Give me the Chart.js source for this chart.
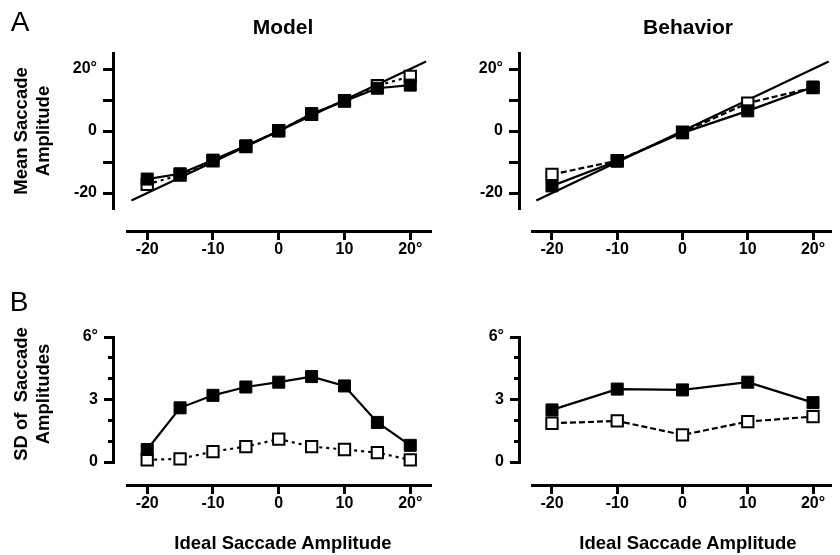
<!DOCTYPE html>
<html>
<head>
<meta charset="utf-8">
<script src="https://cdn.jsdelivr.net/npm/chart.js@4.4.0/dist/chart.umd.min.js"></script>
<style>
  body { margin: 0; background: #fff; }
  #wrap { position: relative; width: 840px; height: 555px; background: #fff; overflow: hidden;
          font-family: 'Liberation Sans', Arial, sans-serif; color: #000; }
  canvas { position: absolute; }
  .lbl { position: absolute; white-space: nowrap; transform: translate(-50%, -50%); }
  .bold { font-weight: bold; font-size: 18.5px; }
  .ytitle { position: absolute; white-space: nowrap; font-weight: bold; font-size: 18.5px;
            line-height: 22px; text-align: center; transform: translate(-50%, -50%) rotate(-90deg); }
</style>
</head>
<body>
<div id="wrap">
  <canvas id="meanModel" width="440" height="270" style="left:0;top:0"></canvas>
  <canvas id="meanBehav" width="400" height="270" style="left:440px;top:0"></canvas>
  <canvas id="sdModel" width="440" height="285" style="left:0;top:270px"></canvas>
  <canvas id="sdBehav" width="400" height="285" style="left:440px;top:270px"></canvas>

  <div class="lbl" style="left:20px;top:22px;font-size:28px">A</div>
  <div class="lbl" style="left:19px;top:302px;font-size:28px">B</div>
  <div class="lbl" style="left:283px;top:27px;font-size:21px;font-weight:bold">Model</div>
  <div class="lbl" style="left:688px;top:27px;font-size:21px;font-weight:bold">Behavior</div>
  <div class="ytitle" style="left:32px;top:131px">Mean Saccade<br>Amplitude</div>
  <div class="ytitle" style="left:32px;top:394px">SD of&nbsp; Saccade<br>Amplitudes</div>
  <div class="lbl bold" style="left:283px;top:543px">Ideal Saccade Amplitude</div>
  <div class="lbl bold" style="left:688px;top:543px">Ideal Saccade Amplitude</div>
</div>
<script>
// ideal amplitudes (deg)
var modelAmps = [-20, -15, -10, -5, 0, 5, 10, 15, 20];
var behavAmps = [-20, -10, 0, 10, 20];

// mean saccade amplitude: filled = solid line, open = dashed line
var modelMeanFilled = [-15.5, -13.8, -9.4, -4.8, 0, 5.6, 9.6, 13.8, 14.8];
var modelMeanOpen   = [-17.2, -14.2, -9.6, -5.0, 0.1, 5.4, 9.8, 14.6, 17.6];
var behavMeanFilled = [-17.7, -9.7, -0.6, 6.5, 14.2];
var behavMeanOpen   = [-14.0, -9.6, -0.4, 9.0, 14.0];
var identityLine = [-22.4, 22.4];

// SD of saccade amplitudes
var modelSdFilled = [0.6, 2.6, 3.2, 3.6, 3.83, 4.1, 3.65, 1.9, 0.8];
var modelSdOpen   = [0.1, 0.15, 0.5, 0.74, 1.1, 0.74, 0.6, 0.45, 0.1];
var behavSdFilled = [2.5, 3.5, 3.46, 3.83, 2.85];
var behavSdOpen   = [1.86, 1.97, 1.3, 1.94, 2.18];

// tick labels
var xTickValues = [-20, -10, 0, 10, 20];
var xTickLabels = ['-20', '-10', '0', '10', '20°'];
var meanTickValues = [-20, -10, 0, 10, 20];
var meanTickLabels = ['-20', '', '0', '', '20°'];
var sdTickValues = [0, 3, 6];
var sdTickLabels = ['0', '3', '6°'];
var sdMinorTicks = [1, 2, 4, 5];

Chart.defaults.font.family = "'Liberation Sans', Arial, sans-serif";
Chart.defaults.color = '#000';

function pts(xs, ys) {
  return xs.map(function (x, i) { return {x: x, y: ys[i]}; });
}

function filledSet(xs, ys) {
  return {data: pts(xs, ys), borderColor: '#000', borderWidth: 2.2, tension: 0, clip: false,
    pointStyle: 'rect', pointRadius: 8.5, pointBackgroundColor: '#000',
    pointBorderColor: '#000', pointBorderWidth: 1};
}
function openSet(xs, ys, dash) {
  return {data: pts(xs, ys), borderColor: '#000', borderWidth: 2.2, borderDash: dash, tension: 0, clip: false,
    pointStyle: 'rect', pointRadius: 8, pointBackgroundColor: '#fff',
    pointBorderColor: '#000', pointBorderWidth: 2};
}
function identitySet() {
  return {data: pts(identityLine, identityLine), borderColor: '#000', borderWidth: 2.2, pointRadius: 0, clip: false};
}

function setTicks(values) {
  return function (s) { s.ticks = values.map(function (v) { return {value: v}; }); };
}
function labelFor(values, labels) {
  return function (v) { return labels[values.indexOf(v)]; };
}

// p: layout numbers for one panel
function makePanel(id, p) {
  var scales = {
    x: {type: 'linear', axis: 'x', position: 'bottom', stack: 'bx', stackWeight: p.xW, weight: 2,
      min: p.xMin, max: p.xMax,
      afterBuildTicks: setTicks(xTickValues),
      afterFit: function (s) { s.height = 34; },
      border: {display: true, width: 3, color: '#000'},
      grid: {drawOnChartArea: false, drawTicks: true, tickLength: 9, lineWidth: 3, color: '#000'},
      ticks: {padding: 0, maxRotation: 0, autoSkip: false, font: {size: 16, weight: 'bold'},
        callback: labelFor(xTickValues, xTickLabels)}
    },
    xPad: {type: 'linear', axis: 'x', position: 'bottom', stack: 'bx', stackWeight: p.xPadW, weight: 1,
      min: 0, max: 1, border: {display: false}, grid: {display: false}, ticks: {display: false},
      afterFit: function (s) { s.height = 34; }
    },
    y: {type: 'linear', axis: 'y', position: 'left', stack: 'ly', stackWeight: p.yW, weight: 2,
      min: p.yMin, max: p.yMax,
      afterBuildTicks: setTicks(p.yTicks),
      afterFit: function (s) { s.width = 56; },
      border: {display: true, width: 3, color: '#000'},
      grid: {drawOnChartArea: false, drawTicks: true, tickLength: p.tickLen, lineWidth: 3, color: '#000'},
      ticks: {padding: 6, autoSkip: false, font: {size: 16, weight: 'bold'},
        callback: labelFor(p.yTicks, p.yLabels)}
    },
    yPad: {type: 'linear', axis: 'y', position: 'left', stack: 'ly', stackWeight: p.yPadW, weight: 1,
      min: 0, max: 1, border: {display: false}, grid: {display: false}, ticks: {display: false},
      afterFit: function (s) { s.width = 0; }
    }
  };
  if (p.minor) {
    // shorter minor tick marks on the SD axis
    scales.yMinor = {type: 'linear', axis: 'y', position: {xPad: 0},
      min: p.yMin - (p.yMax - p.yMin) * p.yPadW / p.yW, max: p.yMax,
      afterBuildTicks: setTicks(p.minor),
      border: {display: false},
      grid: {drawOnChartArea: false, drawTicks: true, tickLength: 5, lineWidth: 3, color: '#000'},
      ticks: {display: false}
    };
  }
  return new Chart(document.getElementById(id), {
    type: 'line',
    data: {datasets: p.datasets},
    options: {
      responsive: false, animation: false, devicePixelRatio: 1,
      layout: {padding: p.padding},
      plugins: {legend: {display: false}, tooltip: {enabled: false}},
      scales: scales
    }
  });
}

var meanY = {yMin: -25, yMax: 25, yTicks: meanTickValues, yLabels: meanTickLabels, yW: 155, yPadW: 22.5, tickLen: 10};
var sdY = {yMin: 0, yMax: 6, yTicks: sdTickValues, yLabels: sdTickLabels, yW: 125, yPadW: 23, tickLen: 9, minor: sdMinorTicks};

makePanel('meanModel', Object.assign({}, meanY, {
  xMin: -23, xMax: 23, xW: 309.4, xPadW: 14.8,
  padding: {left: 57, top: 53.5, right: 2.8, bottom: 5},
  datasets: [filledSet(modelAmps, modelMeanFilled), openSet(modelAmps, modelMeanOpen, [3, 4]), identitySet()]
}));
makePanel('meanBehav', Object.assign({}, meanY, {
  xMin: -23, xMax: 22.6, xW: 306.7, xPadW: 13.8,
  padding: {left: 23, top: 53.5, right: 0.5, bottom: 5},
  datasets: [filledSet(behavAmps, behavMeanFilled), openSet(behavAmps, behavMeanOpen, [6, 3]), identitySet()]
}));
makePanel('sdModel', Object.assign({}, sdY, {
  xMin: -23, xMax: 23, xW: 309.4, xPadW: 14.8,
  padding: {left: 57, top: 67, right: 2.8, bottom: 36},
  datasets: [filledSet(modelAmps, modelSdFilled), openSet(modelAmps, modelSdOpen, [3, 4])]
}));
makePanel('sdBehav', Object.assign({}, sdY, {
  xMin: -23, xMax: 22.6, xW: 306.7, xPadW: 13.8,
  padding: {left: 23, top: 67, right: 0.5, bottom: 36},
  datasets: [filledSet(behavAmps, behavSdFilled), openSet(behavAmps, behavSdOpen, [6, 3])]
}));
</script>
</body>
</html>
